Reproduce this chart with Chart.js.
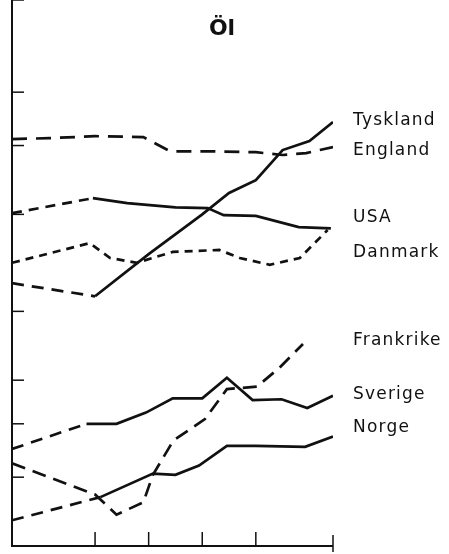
<!DOCTYPE html>
<html>
<head>
<meta charset="utf-8">
<script src="https://cdn.jsdelivr.net/npm/chart.js@4/dist/chart.umd.min.js"></script>
<style>
  html, body { margin: 0; padding: 0; background: #fff; }
  #wrap { width: 449px; height: 554px; }
</style>
</head>
<body>
<div id="wrap"><canvas id="olChart" width="449" height="554"></canvas></div>
<script>
// Beer consumption per country (log scale, litres per head)
const yearTicks = [1950, 1955, 1960, 1965, 1972.2];
const valueTicks = [20, 25, 30, 40, 60, 80, 100, 147];

const tysklandYears = [1942.25, 1950, 1955, 1960, 1962.5, 1965, 1967.5, 1970, 1972.2];
const tysklandValues = [45.0, 42.6, 50.8, 60.0, 65.6, 69.2, 78.5, 81.5, 88.3];

const englandYears = [1942.25, 1945.75, 1950, 1954.5, 1957, 1960.5, 1965, 1967.5, 1969.7, 1972.2];
const englandValues = [82.2, 82.5, 83.2, 82.9, 78.1, 78.1, 77.8, 76.9, 77.5, 79.5];

const usaYears = [1942.25, 1949.8, 1953, 1957.5, 1960.5, 1962, 1965, 1969, 1972];
const usaValues = [60.3, 64.2, 62.9, 61.8, 61.6, 59.8, 59.6, 56.9, 56.6];

const danmarkYears = [1942.25, 1949.5, 1951.4, 1953.9, 1957.25, 1961.6, 1963.5, 1966.3, 1969.1, 1971.7];
const danmarkValues = [49.0, 53.2, 50.0, 49.0, 51.3, 51.7, 50.0, 48.6, 50.0, 56.2];

const frankrikeYears = [1942.25, 1950, 1952, 1954.5, 1955.4, 1957.3, 1960.25, 1962.3, 1965.1, 1967.2, 1969.4];
const frankrikeValues = [21.2, 18.6, 17.1, 18.0, 20.2, 23.3, 25.5, 28.9, 29.2, 31.6, 34.9];

const sverigeYears = [1942.25, 1949.2, 1952, 1954.75, 1957.25, 1960, 1962.3, 1964.7, 1967.4, 1969.8, 1972.2];
const sverigeValues = [22.5, 25.0, 25.0, 26.2, 27.8, 27.8, 30.3, 27.6, 27.7, 26.7, 28.1];

const norgeYears = [1942.25, 1950.5, 1955.4, 1957.5, 1959.7, 1962.3, 1965, 1969.6, 1972.2];
const norgeValues = [16.7, 18.4, 20.3, 20.2, 21.0, 22.8, 22.8, 22.7, 23.7];

function points(xs, ys) {
  return xs.map((x, i) => ({ x: x, y: ys[i] }));
}

// dash: pattern, earlyOnly = only the first (pre-1950) segment is dashed
// labelDy = baseline offset of the name from the line's end point
const series = [
  { name: 'Tyskland', data: points(tysklandYears, tysklandValues), dash: [12, 8], earlyOnly: true, labelDy: 3 },
  { name: 'England', data: points(englandYears, englandValues), dash: [15, 9], earlyOnly: false, labelDy: 8 },
  { name: 'USA', data: points(usaYears, usaValues), dash: [10, 7], earlyOnly: true, labelDy: -6 },
  { name: 'Danmark', data: points(danmarkYears, danmarkValues), dash: [8, 6], earlyOnly: false, labelDy: 27 },
  { name: 'Frankrike', data: points(frankrikeYears, frankrikeValues), dash: [14, 8], earlyOnly: false, labelDy: 1 },
  { name: 'Sverige', data: points(sverigeYears, sverigeValues), dash: [12, 8], earlyOnly: true, labelDy: 3 },
  { name: 'Norge', data: points(norgeYears, norgeValues), dash: [12, 8], earlyOnly: true, labelDy: -5 }
];

const ink = '#111';

const datasets = series.map(s => ({
  label: s.name,
  data: s.data,
  borderColor: ink,
  borderWidth: 2.7,
  pointRadius: 0,
  tension: 0,
  fill: false,
  borderDash: s.earlyOnly ? [] : s.dash,
  segment: s.earlyOnly ? {
    borderDash: ctx => ctx.p0DataIndex === 0 ? s.dash : []
  } : {}
}));

// axes, ticks, title and country names drawn by hand
const decorations = {
  id: 'decorations',
  afterDatasetsDraw(chart) {
    const ctx = chart.ctx;
    const area = chart.chartArea;
    const xs = chart.scales.x;
    const ys = chart.scales.y;
    ctx.save();
    ctx.strokeStyle = ink;
    ctx.lineWidth = 2;
    ctx.setLineDash([]);

    // y axis + x axis
    ctx.beginPath();
    ctx.moveTo(area.left, area.top);
    ctx.lineTo(area.left, area.bottom);
    ctx.lineTo(area.right, area.bottom);
    ctx.stroke();

    ctx.lineWidth = 1.5;
    valueTicks.forEach(v => {
      const y = ys.getPixelForValue(v);
      ctx.beginPath();
      ctx.moveTo(area.left, y);
      ctx.lineTo(area.left + 12, y);
      ctx.stroke();
    });
    yearTicks.forEach((t, i) => {
      const x = xs.getPixelForValue(t);
      const last = i === yearTicks.length - 1;
      ctx.beginPath();
      ctx.moveTo(x, area.bottom + (last ? 6 : 0));
      ctx.lineTo(x, area.bottom - (last ? 11 : 14));
      ctx.stroke();
    });

    // title
    ctx.fillStyle = ink;
    ctx.font = 'bold 22px "DejaVu Sans"';
    ctx.textAlign = 'center';
    ctx.textBaseline = 'alphabetic';
    ctx.fillText('Öl', 222, 35);

    // names at line ends
    ctx.font = '17px "DejaVu Sans"';
    ctx.textAlign = 'left';
    if ('letterSpacing' in ctx) ctx.letterSpacing = '1.2px';
    chart.data.datasets.forEach((ds, i) => {
      const meta = chart.getDatasetMeta(i);
      const end = meta.data[meta.data.length - 1];
      ctx.fillText(ds.label, area.right + 20, end.y + series[i].labelDy);
    });
    ctx.restore();
  }
};

new Chart(document.getElementById('olChart').getContext('2d'), {
  type: 'line',
  data: { datasets: datasets },
  options: {
    responsive: false,
    animation: false,
    layout: { padding: { left: 12, right: 116, top: 0, bottom: 8 } },
    plugins: { legend: { display: false }, tooltip: { enabled: false }, title: { display: false } },
    scales: {
      x: { type: 'linear', min: 1942.25, max: 1972.2, display: false },
      y: { type: 'logarithmic', min: 15, max: 147, display: false }
    }
  },
  plugins: [decorations]
});
</script>
</body>
</html>
